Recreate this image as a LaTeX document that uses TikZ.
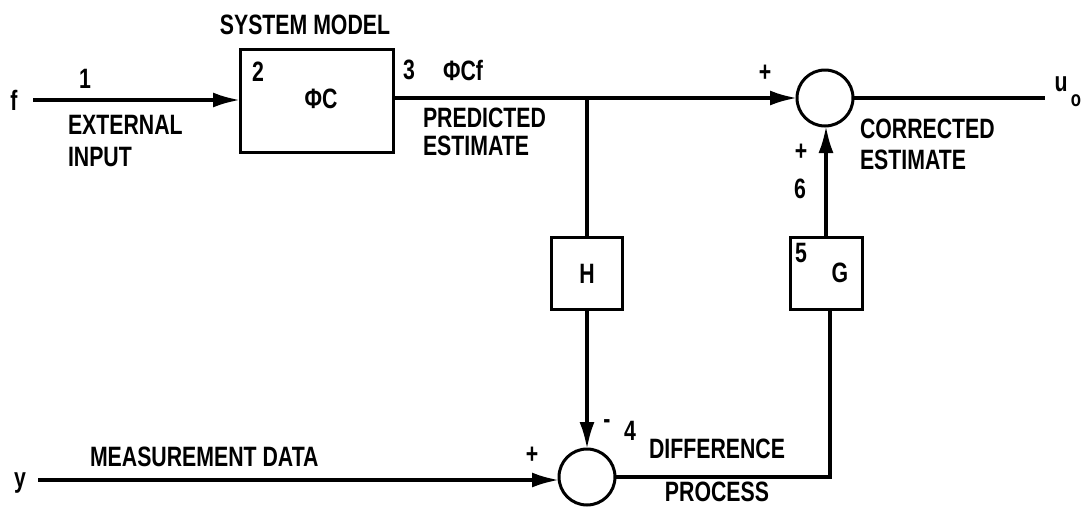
\documentclass[tikz,border=0pt]{standalone}
\usepackage{fontspec}
\setmainfont{Liberation Sans}[FakeStretch=0.76]
\usetikzlibrary{arrows.meta,calc}
\begin{document}
\begin{tikzpicture}[x=1pt,y=-1pt,
  line width=3.4pt,
  every node/.style={inner sep=0pt, outer sep=0pt},
  lbl/.style={font=\bfseries\fontsize{28}{33}\selectfont},
  blk/.style={draw, line width=3pt, rectangle},
  sumc/.style={draw, line width=3pt, circle, minimum size=56pt},
  arr/.style={-{Latex[length=27pt,width=15pt]}},
]
\useasboundingbox (0,0) rectangle (1087,509);

% blocks
\node[blk, minimum width=153pt, minimum height=103pt] (sys) at (316.5,101) {};
\node[sumc] (s1) at (825,98) {};
\node[sumc] (s2) at (587,477) {};
\node[blk, minimum width=71pt, minimum height=72pt] (h) at (587,273) {};
\node[blk, minimum width=72pt, minimum height=72pt] (g) at (826,273) {};

% end points
\node[lbl] (f) at (14,100) {f};
\coordinate (fin) at (33,100);
\node[lbl] (y) at (20,483) {y};
\coordinate (yin) at (38,480);
\coordinate (br) at (587,98);
\coordinate (uo) at (1045,98);
\coordinate (c2) at (830,477);

% connectors
\draw[arr] (fin) -- (sys.west |- fin);
\draw[arr] (sys.east |- s1) -- (s1.west);
\draw (br) -- (h.north);
\draw[arr] (h.south) -- (s2.north);
\draw[arr] (yin) -- (s2.west |- yin);
\draw (s2.east) -- (c2) -- (c2 |- g.south);
\draw[arr] (g.north) -- (s1.south -| g.north);
\draw (s1.east) -- (uo);

% labels
\node[lbl] (t1) at (85,79) {1};
\node[lbl, align=left, anchor=north west] (tei) at (68,115) {EXTERNAL\\[-1pt]INPUT};
\node[lbl] (tsm) at (305,25) {SYSTEM MODEL};
\node[lbl] (t2) at (258,72) {2};
\node[lbl] (tpc) at (321,99) {ΦC};
\node[lbl] (t3) at (409,70) {3};
\node[lbl] (tpcf) at (463,70) {ΦCf};
\node[lbl, align=left, anchor=north west] (tpe) at (423,108) {PREDICTED\\[-5pt]ESTIMATE};
\node[lbl] (tp1) at (765,73) {+};
\node[lbl, align=left, anchor=north west] (tce) at (860,119) {CORRECTED\\[-2pt]ESTIMATE};
\node[lbl] (tu) at (1061,84) {u};
\node[lbl, font=\bfseries\fontsize{22}{26}\selectfont] (to) at (1076,101) {o};
\node[lbl] (tp2) at (801,152) {+};
\node[lbl] (t6) at (800,189) {6};
\node[lbl] (t5) at (801,253) {5};
\node[lbl] (tg) at (840,273) {G};
\node[lbl] (th) at (587,274) {H};
\node[lbl, anchor=west] (tmd) at (90,457) {MEASUREMENT DATA};
\node[lbl] (tp3) at (532,455) {+};
\node[lbl] (tm) at (607,424) {-};
\node[lbl] (t4) at (630,431) {4};
\node[lbl, align=center] (tdp) at (717,470) {DIFFERENCE\\[10pt]PROCESS};
\end{tikzpicture}
\end{document}
